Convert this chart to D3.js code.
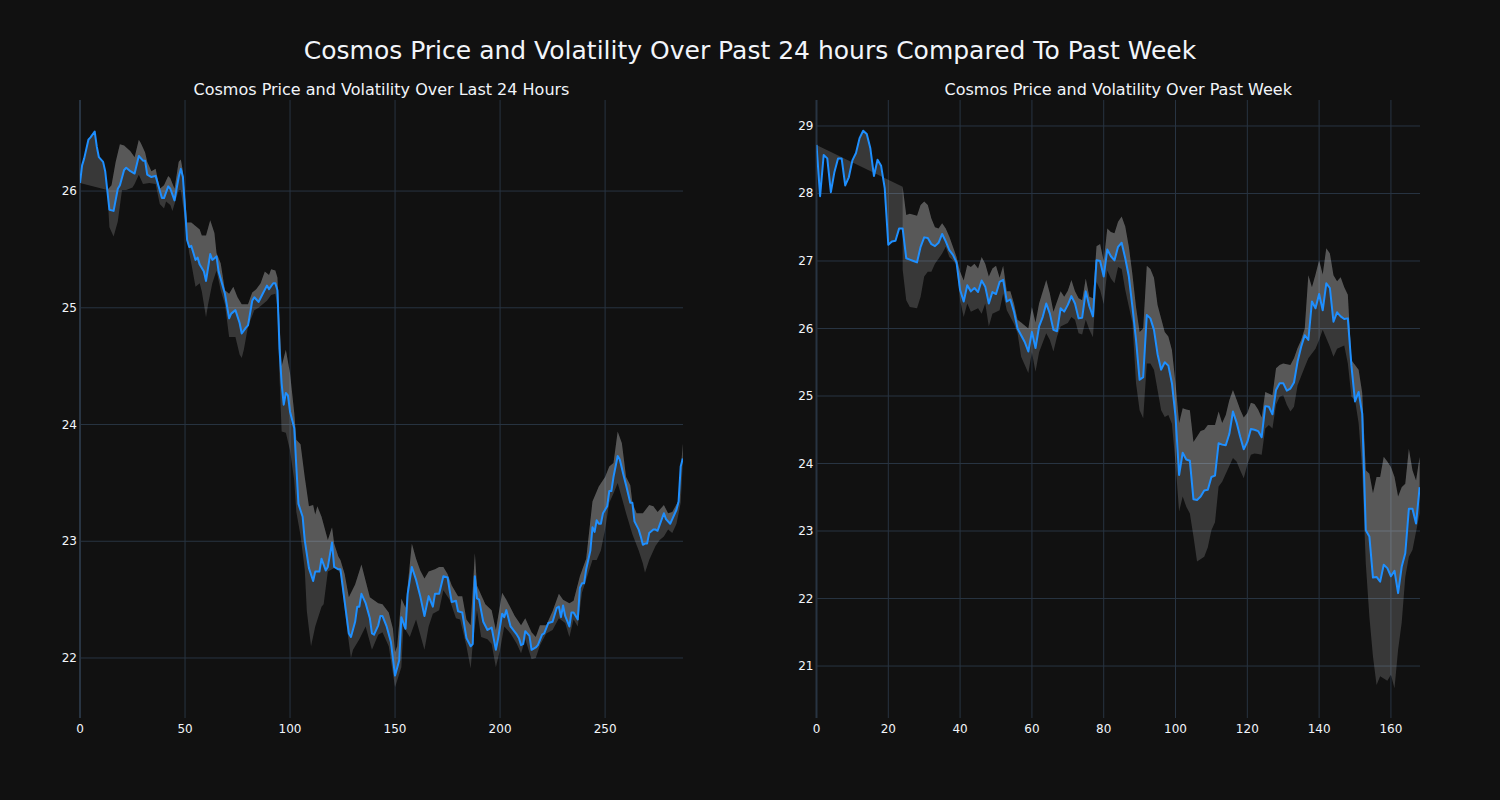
<!DOCTYPE html>
<html><head><meta charset="utf-8">
<script src="https://cdn.jsdelivr.net/npm/d3@7"></script>
<style>html,body{margin:0;padding:0;background:#111111;}svg{display:block;}</style>
</head><body>
<svg id="chart" width="1500" height="800"></svg>
<script>
// ---------- Last 24 hours (5-minute steps) ----------
const price24X = [0,1,2,4,5,7,8,9,11,12,14,16,18,19,21,22,24,26,28,30,31,32,34,36,39,40,42,43,45,47,48,49,51,52,53,55,56,57,59,60,62,63,65,66,69,71,72,74,76,77,79,80,82,83,85,87,89,90,92,93,94,95,96,97,98,99,100,102,103,104,106,107,109,111,112,114,115,117,118,120,121,123,124,128,129,131,132,133,134,136,138,139,140,142,143,144,146,148,150,152,153,155,156,158,160,162,164,166,168,169,171,173,175,176,177,179,180,182,184,186,187,188,189,190,192,194,196,198,199,201,202,203,205,208,209,210,211,212,214,215,217,218,220,221,223,225,227,228,229,230,231,233,234,235,237,238,239,240,241,243,244,245,246,247,248,249,251,252,253,254,256,257,259,260,262,263,264,266,267,268,269,270,271,273,274,275,276,278,279,281,282,284,285,286,287];
const price24 = [26.07,26.22,26.28,26.44,26.46,26.51,26.38,26.29,26.25,26.17,25.84,25.83,26.02,26.05,26.18,26.20,26.17,26.15,26.30,26.26,26.26,26.14,26.12,26.13,25.94,25.94,26.04,26.02,25.92,26.12,26.19,26.12,25.58,25.52,25.53,25.41,25.43,25.37,25.31,25.23,25.46,25.41,25.44,25.31,25.12,24.91,24.95,24.98,24.87,24.78,24.83,24.85,25.06,25.09,25.05,25.12,25.19,25.16,25.21,25.21,25.15,24.65,24.35,24.17,24.27,24.25,24.11,23.97,23.64,23.32,23.21,23.01,22.77,22.66,22.74,22.74,22.85,22.75,22.78,22.99,22.78,22.76,22.76,22.21,22.18,22.31,22.44,22.44,22.55,22.47,22.34,22.21,22.20,22.28,22.36,22.36,22.27,22.14,21.85,21.98,22.35,22.25,22.55,22.78,22.67,22.53,22.36,22.53,22.44,22.55,22.55,22.70,22.69,22.58,22.48,22.49,22.40,22.39,22.17,22.10,22.12,22.70,22.51,22.50,22.31,22.24,22.26,22.07,22.16,22.38,22.35,22.41,22.27,22.20,22.17,22.11,22.12,22.23,22.19,22.07,22.09,22.11,22.20,22.21,22.30,22.31,22.43,22.44,22.35,22.45,22.36,22.27,22.39,22.39,22.33,22.60,22.64,22.64,22.76,22.92,23.12,23.08,23.18,23.15,23.15,23.24,23.30,23.43,23.43,23.55,23.73,23.70,23.55,23.48,23.33,23.33,23.17,23.10,23.04,22.97,22.98,22.98,23.07,23.10,23.10,23.09,23.14,23.24,23.19,23.15,23.19,23.27,23.34,23.64,23.71];
const upper24X = [13,15,17,19,21,24,26,28,29,31,32,34,36,38,40,42,43,45,47,48,49,51,53,55,57,58,60,62,64,65,67,69,71,73,75,77,80,82,84,86,88,90,91,93,94,96,98,100,102,103,105,107,109,111,112,113,115,118,120,121,123,124,126,128,131,134,138,142,144,147,149,150,151,153,155,158,160,162,164,166,169,171,173,175,177,180,182,184,186,188,189,193,196,198,201,203,207,210,212,215,217,219,222,225,228,230,233,235,238,241,244,247,250,252,254,256,258,260,262,263,265,268,271,273,275,278,280,282,285,287];
const upper24 = [26.01,26.05,26.25,26.40,26.39,26.34,26.29,26.44,26.41,26.33,26.25,26.17,26.19,26.02,26.05,26.13,26.11,26.02,26.25,26.27,26.17,25.73,25.73,25.70,25.67,25.62,25.62,25.75,25.64,25.47,25.38,25.15,25.12,25.18,25.09,25.03,25.03,25.13,25.16,25.21,25.31,25.28,25.33,25.32,25.26,24.50,24.64,24.44,24.10,23.87,23.83,23.55,23.30,23.31,23.23,23.30,23.21,23.01,23.12,22.98,22.87,22.84,22.72,22.52,22.63,22.80,22.52,22.47,22.46,22.39,22.25,22.05,22.10,22.51,22.43,22.98,22.85,22.75,22.68,22.74,22.76,22.78,22.78,22.72,22.62,22.53,22.53,22.33,22.28,22.90,22.62,22.46,22.41,22.24,22.56,22.50,22.36,22.28,22.34,22.22,22.18,22.28,22.28,22.40,22.55,22.50,22.47,22.49,22.70,22.85,23.34,23.47,23.55,23.64,23.67,23.94,23.84,23.55,23.48,23.33,23.24,23.24,23.31,23.30,23.25,23.31,23.24,23.25,23.35,23.84];
const lower24X = [13,14,16,18,20,22,25,26,28,30,33,36,38,40,41,43,44,47,48,50,52,53,55,57,58,60,61,63,65,67,69,71,74,76,77,78,80,83,85,87,89,91,93,94,95,96,98,100,102,103,105,107,108,110,112,115,116,118,122,124,127,129,130,133,136,139,142,144,147,150,153,154,157,160,164,166,168,171,173,176,179,181,184,186,187,189,191,194,196,198,200,202,205,208,210,212,215,217,219,222,225,228,231,233,235,237,239,241,244,246,248,250,252,254,256,258,260,263,266,268,269,271,274,276,278,280,282,284,286,287];
const lower24 = [26.00,25.69,25.61,25.74,26.01,26.01,26.03,26.06,26.14,26.06,26.07,26.06,25.89,25.85,25.91,25.88,25.83,26.01,26.01,25.75,25.47,25.38,25.18,25.21,25.14,24.92,25.03,25.21,25.32,25.15,25.03,24.75,24.75,24.60,24.57,24.64,24.84,24.98,25.00,25.03,25.06,25.11,25.12,25.00,24.40,23.94,23.93,23.78,23.52,23.25,23.05,22.76,22.40,22.10,22.27,22.44,22.46,22.74,22.78,22.72,22.27,22.00,22.07,22.16,22.27,22.07,22.20,22.22,22.10,21.75,21.92,22.27,22.18,22.33,22.07,22.27,22.38,22.41,22.58,22.50,22.34,22.33,22.10,21.91,22.12,22.41,22.18,22.16,22.12,21.92,22.07,22.27,22.21,22.12,22.04,22.16,21.99,22.00,22.11,22.21,22.24,22.34,22.30,22.18,22.33,22.27,22.56,22.67,22.84,22.84,22.92,23.10,23.33,23.41,23.50,23.37,23.24,23.06,22.92,22.81,22.73,22.84,22.96,23.01,23.04,23.10,23.07,23.15,23.33,23.67];

// ---------- Past week (hourly steps) ----------
const priceWeekX = d3.range(0, 169);
const priceWeek = [28.72,27.96,28.57,28.52,28.02,28.32,28.52,28.52,28.12,28.24,28.49,28.60,28.82,28.93,28.88,28.67,28.26,28.50,28.41,28.08,27.24,27.29,27.30,27.48,27.48,27.04,27.02,27.00,26.98,27.21,27.35,27.34,27.25,27.22,27.27,27.40,27.29,27.16,27.09,26.98,26.57,26.40,26.64,26.55,26.60,26.54,26.71,26.62,26.37,26.54,26.51,26.69,26.72,26.40,26.43,26.25,26.00,25.90,25.80,25.66,25.95,25.71,26.03,26.17,26.37,26.22,25.98,25.96,26.30,26.25,26.35,26.48,26.37,26.15,26.16,26.55,26.33,26.18,27.01,27.00,26.77,27.17,27.07,27.01,27.21,27.27,27.04,26.77,26.32,25.83,25.24,25.28,26.20,26.15,25.98,25.62,25.39,25.50,25.45,25.19,24.70,23.83,24.16,24.06,24.04,23.47,23.46,23.51,23.60,23.61,23.80,23.82,24.30,24.28,24.27,24.44,24.77,24.61,24.40,24.21,24.32,24.51,24.50,24.48,24.39,24.85,24.84,24.73,25.09,25.19,25.19,25.08,25.11,25.20,25.51,25.73,25.90,25.83,26.40,26.30,26.51,26.27,26.67,26.60,26.10,26.24,26.18,26.14,26.15,25.45,24.92,25.06,24.74,23.01,22.92,22.31,22.32,22.25,22.50,22.45,22.33,22.41,22.08,22.47,22.67,23.33,23.33,23.11,23.65];
const upperWeekX = [24,25,26,28,29,30,31,32,33,34,35,36,37,38,39,40,41,42,43,44,45,46,47,48,49,50,51,52,53,54,55,56,57,59,60,61,62,64,65,66,68,69,70,71,72,73,74,75,76,77,78,79,80,81,82,83,84,85,86,87,88,89,90,91,92,93,94,95,96,97,98,99,100,101,102,103,104,105,106,107,108,109,111,112,113,114,115,116,117,118,119,120,121,122,123,124,125,127,128,129,130,132,133,134,135,136,137,138,139,140,141,142,143,144,145,146,147,148,149,151,152,153,154,155,156,157,158,159,160,161,162,163,164,165,166,167,168];
const upperWeek = [28.10,27.68,27.70,27.67,27.83,27.88,27.83,27.63,27.50,27.48,27.56,27.48,27.36,27.21,27.06,26.84,26.71,26.94,26.91,26.96,26.89,27.06,26.96,26.77,26.89,26.93,26.75,26.93,26.55,26.55,26.37,26.13,26.09,26.00,26.32,26.09,26.37,26.72,26.52,26.25,26.55,26.47,26.56,26.72,26.55,26.45,26.42,26.74,26.47,26.45,27.22,27.25,27.00,27.48,27.43,27.41,27.58,27.66,27.51,27.21,26.80,26.32,25.95,26.00,26.93,26.88,26.75,26.35,26.15,25.95,25.88,25.68,25.19,24.60,24.82,24.80,24.79,24.32,24.40,24.48,24.50,24.57,24.57,24.77,24.60,24.72,24.94,25.09,24.95,24.80,24.68,24.75,24.90,24.88,24.80,24.68,25.06,25.01,25.41,25.46,25.48,25.46,25.56,25.71,25.83,26.00,26.79,26.61,26.80,27.01,26.80,27.19,27.11,26.79,26.70,26.76,26.61,26.50,25.53,25.39,25.05,23.90,23.85,23.56,23.80,23.80,24.10,24.03,23.95,23.80,23.51,23.65,23.70,24.22,23.90,23.75,24.10];
const lowerWeekX = [24,25,26,28,29,30,31,32,33,35,36,37,38,39,40,41,42,43,45,46,47,48,49,51,52,53,54,55,56,57,59,60,61,62,64,65,66,67,68,70,71,72,73,74,75,76,77,78,79,80,81,82,83,84,85,86,88,89,90,91,92,93,94,96,97,98,99,100,101,102,103,104,105,106,108,109,110,111,112,113,114,116,117,118,119,120,121,122,123,124,125,126,127,128,129,130,131,132,133,134,136,137,138,139,140,141,143,144,145,147,148,149,150,151,152,153,154,155,156,157,159,160,161,162,163,164,165,166,168];
const lowerWeek = [26.87,26.42,26.32,26.30,26.47,26.77,26.84,26.84,26.96,27.11,27.21,27.06,27.01,26.94,26.42,26.17,26.37,26.25,26.30,26.22,26.37,26.03,26.22,26.27,26.52,26.27,26.17,26.07,25.93,25.58,25.34,25.65,25.36,25.65,25.93,25.83,25.66,25.88,26.03,26.08,26.17,26.13,25.93,25.91,26.13,25.98,25.87,26.69,26.57,26.36,26.86,26.74,26.67,26.91,26.88,26.57,26.08,25.19,24.79,24.67,25.48,25.48,25.39,24.79,24.69,24.72,24.59,24.00,23.29,23.51,23.36,23.26,22.92,22.55,22.62,22.76,23.01,23.13,23.66,23.73,23.85,24.08,24.03,23.90,23.78,23.98,24.13,24.15,24.14,24.13,24.52,24.57,24.52,24.87,24.99,25.01,24.87,24.77,24.84,25.16,25.43,25.56,25.63,25.70,25.83,25.98,25.73,25.58,25.70,25.75,25.48,24.99,24.94,24.60,23.90,22.52,21.73,21.14,20.72,20.85,20.78,20.87,20.67,21.24,21.64,22.32,22.62,22.72,23.26];

const ticks24X = [0,50,100,150,200,250];
const ticks24Y = [22,23,24,25,26];
const ticksWeekX = [0,20,40,60,80,100,120,140,160];
const ticksWeekY = [21,22,23,24,25,26,27,28,29];

const mainTitle = "Cosmos Price and Volatility Over Past 24 hours Compared To Past Week";
const title24 = "Cosmos Price and Volatility Over Last 24 Hours";
const titleWeek = "Cosmos Price and Volatility Over Past Week";

// ---------- drawing ----------
const svg = d3.select("#chart");
const FONT = "'DejaVu Sans', Verdana, sans-serif";
const TXT = "#f2f5fa";
svg.append("rect").attr("width",1500).attr("height",800).attr("fill","#111111");

svg.append("text").attr("x",750).attr("y",59).attr("text-anchor","middle")
  .attr("font-family",FONT).attr("font-size",25).attr("fill",TXT).text(mainTitle);

function panel(id, cfg) {
  const x = d3.scaleLinear().domain(cfg.xDom).range([cfg.left, cfg.right]);
  const y = d3.scaleLinear().domain(cfg.yDom).range([718, 100]);
  const g = svg.append("g");
  g.append("clipPath").attr("id", id).append("rect")
    .attr("x", cfg.left).attr("y", 100).attr("width", cfg.right - cfg.left).attr("height", 618);

  // grid
  g.selectAll(".gy").data(cfg.yTicks).enter().append("line")
    .attr("x1", cfg.left).attr("x2", cfg.right).attr("y1", d => y(d)).attr("y2", d => y(d))
    .attr("stroke", "#283442").attr("stroke-width", 1);
  g.selectAll(".gx").data(cfg.xTicks.filter(d => d !== 0)).enter().append("line")
    .attr("y1", 100).attr("y2", 718).attr("x1", d => x(d)).attr("x2", d => x(d))
    .attr("stroke", "#283442").attr("stroke-width", 1);
  // zero line
  g.append("line").attr("x1", x(0)).attr("x2", x(0)).attr("y1", 100).attr("y2", 718)
    .attr("stroke", "#283442").attr("stroke-width", 2);

  const pts = (xs, vs) => xs.map((d, i) => [x(d), y(vs[i])]);
  const line = d3.line();
  const pricePts = pts(cfg.px, cfg.pv);
  const upPts = pts(cfg.ux, cfg.uv);
  const loPts = pts(cfg.lx, cfg.lv);

  const area = g.append("g").attr("clip-path", `url(#${id})`);
  // band between upper and lower
  area.append("path").attr("d", line(upPts.concat(loPts.slice().reverse())) + "Z")
    .attr("fill", "rgba(255,255,255,0.165)");
  // fill between price and upper
  area.append("path").attr("d", line(pricePts.concat(upPts.slice().reverse())) + "Z")
    .attr("fill", "rgba(255,255,255,0.165)");
  // price line
  area.append("path").attr("d", line(pricePts)).attr("fill", "none")
    .attr("stroke", "#1e8fff").attr("stroke-width", 2).attr("stroke-linejoin", "round");

  // tick labels
  g.selectAll(".tx").data(cfg.xTicks).enter().append("text")
    .attr("x", d => x(d)).attr("y", 733).attr("text-anchor", "middle")
    .attr("font-family", FONT).attr("font-size", 12).attr("fill", TXT).text(d => d);
  g.selectAll(".ty").data(cfg.yTicks).enter().append("text")
    .attr("x", cfg.left - 3).attr("y", d => y(d) + 4).attr("text-anchor", "end")
    .attr("font-family", FONT).attr("font-size", 12).attr("fill", TXT).text(d => d);

  g.append("text").attr("x", (cfg.left + cfg.right) / 2).attr("y", 95).attr("text-anchor", "middle")
    .attr("font-family", FONT).attr("font-size", 16).attr("fill", TXT).text(cfg.title);
}

panel("clipL", {left: 80, right: 683, xDom: [0, 287.1], yDom: [21.486, 26.78],
  xTicks: ticks24X, yTicks: ticks24Y, px: price24X, pv: price24, ux: upper24X, uv: upper24,
  lx: lower24X, lv: lower24, title: title24});
panel("clipR", {left: 816.5, right: 1420, xDom: [0, 168.1], yDom: [20.23, 29.385],
  xTicks: ticksWeekX, yTicks: ticksWeekY, px: priceWeekX, pv: priceWeek, ux: upperWeekX, uv: upperWeek,
  lx: lowerWeekX, lv: lowerWeek, title: titleWeek});
</script>
</body></html>
